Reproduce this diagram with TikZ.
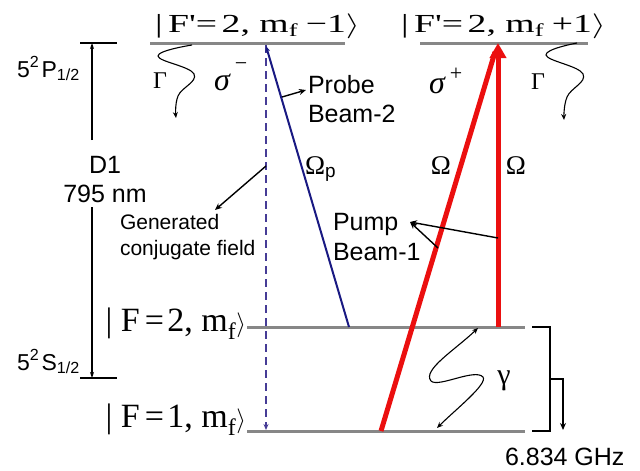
\documentclass[tikz,border=0pt]{standalone}
\usepackage{fontspec}
\usepackage{graphicx}
\setmainfont{Liberation Serif}
\setsansfont{Liberation Sans}
\usetikzlibrary{arrows.meta}
\definecolor{lvl}{RGB}{135,135,135}
\definecolor{dashblue}{RGB}{70,60,150}
\definecolor{navyb}{RGB}{25,25,130}
\definecolor{beamred}{RGB}{235,15,15}
\newcommand{\fsz}[1]{\fontsize{#1}{#1}\selectfont}
\begin{document}
\begin{tikzpicture}[x=1pt,y=-1pt,
  level/.style={draw=lvl,line width=3pt},
  bar/.style={draw=black,line width=2.5pt},
  smalltip/.style={-{Stealth[length=6pt,width=5pt]}},
  pointer/.style={draw=black,line width=1.4pt,-{Stealth[length=7pt,width=6pt]}},
  wave/.style={draw=black,line width=1.1pt},
  txt/.style={inner sep=0pt,outer sep=0pt},
  sanslbl/.style={txt,font=\sffamily\fsz{25}},
  smalllbl/.style={txt,font=\sffamily\fsz{21}},
  greek/.style={txt,font=\fsz{24}},
  sig/.style={txt,font=\itshape\fsz{32}},
  suplbl/.style={txt,font=\fsz{22}},
]
\useasboundingbox (0,0) rectangle (640,471);

% ---- coordinates
\coordinate (UL1) at (150,43); \coordinate (UL2) at (345,43);
\coordinate (UR1) at (420,43); \coordinate (UR2) at (588,43);
\coordinate (F2a) at (247,327); \coordinate (F2b) at (525,327);
\coordinate (F1a) at (247,431); \coordinate (F1b) at (525,431);

% ---- levels
\draw[level] (UL1) -- (UL2);
\draw[level] (UR1) -- (UR2);
\draw[level] (F2a) -- (F2b);
\draw[level] (F1a) -- (F1b);

% ---- kets
\node[txt,anchor=base west] (ketL) at (155,32)
  {\fsz{26}\scalebox{1.45}[1]{|\hspace{0.15em}F\textquotesingle=\hspace{0.12em}2,\hspace{0.25em}m\textsubscript{f}\hspace{0.2em}−1$\rangle$}};
\node[txt,anchor=base west] (ketR) at (401,32)
  {\fsz{26}\scalebox{1.45}[1]{|\hspace{0.15em}F\textquotesingle=\hspace{0.12em}2,\hspace{0.25em}m\textsubscript{f}\hspace{0.2em}+1$\rangle$}};
\node[txt,anchor=base east] (ketF2) at (246,331)
  {\fsz{34}|\hspace{0.25em}F\hspace{0.15em}=\hspace{0.1em}2,\hspace{0.25em}m\textsubscript{f}$\rangle$};
\node[txt,anchor=base east] (ketF1) at (246,427)
  {\fsz{34}|\hspace{0.25em}F\hspace{0.15em}=\hspace{0.1em}1,\hspace{0.25em}m\textsubscript{f}$\rangle$};

% ---- D1 bracket
\coordinate (Dtop) at (92,43); \coordinate (Dbot) at (92,378);
\coordinate (Dgap1) at (92,140); \coordinate (Dgap2) at (92,207);
\draw[bar] (80,43) -- (117,43);
\draw[bar] (80,378) -- (117,378);
\draw[line width=1.5pt,-{Stealth[length=6pt,width=4pt]}] (Dgap1) -- (Dtop);
\draw[line width=1.5pt,-{Stealth[length=6pt,width=4pt]}] (Dgap2) -- (Dbot);
\node[sanslbl,anchor=base] (D1) at (105,173) {D1};
\node[sanslbl,anchor=base] (nm) at (105,202) {795 nm};
\node[txt,anchor=base west,font=\sffamily\fsz{23}] (P12) at (17,77) {5\textsuperscript{2}\hspace{0.1em}P\textsubscript{1/2}};
\node[txt,anchor=base west,font=\sffamily\fsz{23}] (S12) at (17,370) {5\textsuperscript{2}\hspace{0.1em}S\textsubscript{1/2}};

% ---- conjugate field (dashed)
\coordinate (CFtop) at (266,45); \coordinate (CFbot) at (266,430);
\draw[dashblue,line width=2.5pt,dash pattern=on 8pt off 5pt,smalltip] (CFtop) -- (CFbot);

% ---- probe beam
\coordinate (PBbot) at (349,327); \coordinate (PBtop) at (266,46);
\draw[navyb,line width=2pt,smalltip] (PBbot) -- (PBtop);

% ---- pump beams
\coordinate (R1bot) at (381,431); \coordinate (R1top) at (495,52);
\coordinate (R2bot) at (498,327); \coordinate (R2top) at (498,43);
\draw[beamred,line width=5pt] (R1bot) -- (R1top);
\draw[beamred,line width=5pt,-{Triangle[length=15pt,width=16pt]}] (R2bot) -- (R2top);

% ---- labels
\node[greek,anchor=base] (GamL) at (160,88) {Γ};
\node[greek,anchor=base] (GamR) at (538,89) {Γ};
\node[sig,anchor=base] (sigm) at (222,90) {σ};
\node[suplbl] (sigmsup) at (241,67) {−};
\node[sig,anchor=base] (sigp) at (437,93) {σ};
\node[suplbl] (sigpsup) at (456,74) {+};
\node[txt,anchor=base west,font=\fsz{27}] (Omp) at (305,174) {Ω\textsubscript{\sffamily p}};
\node[txt,anchor=base,font=\fsz{27}] (OmL) at (441,174) {Ω};
\node[txt,anchor=base,font=\fsz{27}] (OmR) at (516,174) {Ω};
\node[txt,anchor=base,font=\fsz{30}] (gam) at (504,384) {γ};

\node[sanslbl,anchor=base west] (probe1) at (308,93) {Probe};
\node[sanslbl,anchor=base west] (probe2) at (308,122) {Beam-2};
\node[sanslbl,anchor=base west] (pump1) at (333,230) {Pump};
\node[sanslbl,anchor=base west] (pump2) at (333,260) {Beam-1};
\node[smalllbl,anchor=base west] (gen1) at (120,229) {Generated};
\node[smalllbl,anchor=base west] (gen2) at (120,255) {conjugate field};
\node[sanslbl,anchor=base west] (ghz) at (505,465) {6.834 GHz};

% ---- pointer arrows
\coordinate (pbA) at (282,97); \coordinate (pbB) at (306,90);
\draw[pointer] (pbA) -- (pbB);
\coordinate (cfA) at (266,166); \coordinate (cfB) at (215,210);
\draw[pointer] (cfA) -- (cfB);
\coordinate (puA) at (498,238); \coordinate (puB) at (438,248); \coordinate (puT) at (410,222);
\draw[pointer] (puA) -- (puT);
\draw[pointer] (puB) -- (puT);

% ---- spontaneous decay waves
\draw[wave,-{Stealth[length=6pt,width=5pt]}] plot[smooth,tension=0.7] coordinates {(192,45) (158,56) (194,74) (178,96) (176,118)};
\draw[wave,-{Stealth[length=6pt,width=5pt]}] plot[smooth,tension=0.7] coordinates {(577,43) (546,55) (583,74) (567,97) (564,120)};

% ---- ground-state decoherence wave
\coordinate (gTop) at (478,328); \coordinate (gBot) at (437,428);
\draw[wave,{Stealth[length=6pt,width=5pt]}-{Stealth[length=6pt,width=5pt]}]
  (gTop) .. controls (455,350) and (422,370) .. (431,381)
  .. controls (438,388) and (475,368) .. (483,377)
  .. controls (488,384) and (455,410) .. (gBot);

% ---- hyperfine splitting bracket
\coordinate (brT) at (532,327); \coordinate (brB) at (532,431);
\coordinate (brM) at (550,379); \coordinate (brE) at (563,430);
\draw[line width=1.5pt] (brT) -| (550,431) -- (brB);
\draw[line width=1.5pt,-{Stealth[length=7pt,width=6pt]}] (brM) -| (brE);
\end{tikzpicture}
\end{document}
